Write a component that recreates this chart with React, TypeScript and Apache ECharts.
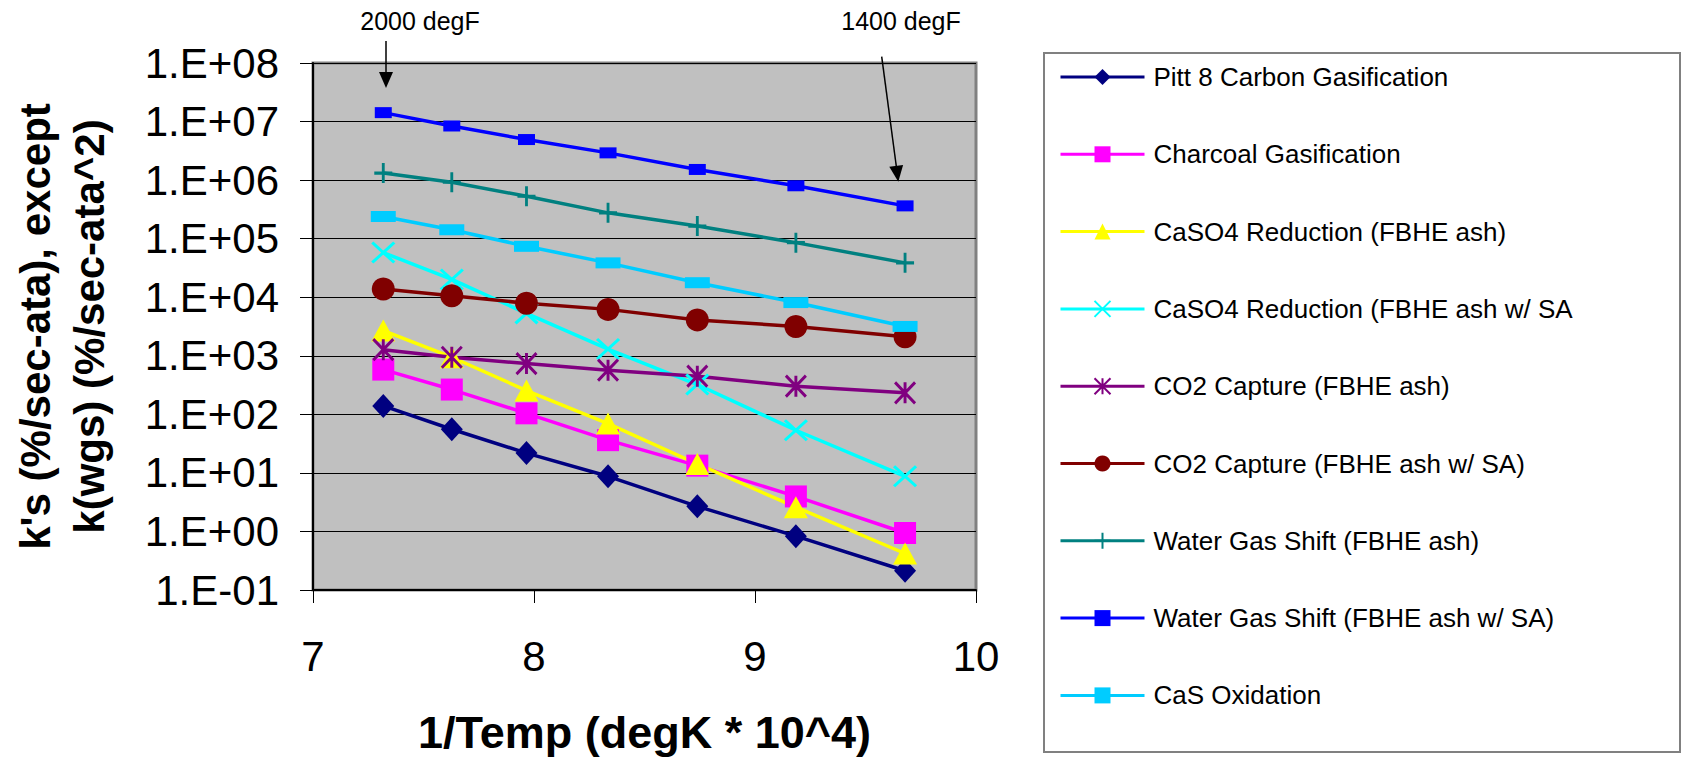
import React, { useEffect, useRef } from "react";
import * as echarts from "echarts";

// 1/Temp (degK * 10^4) for 2000..1400 degF in 100 degF steps
const xValues = [7.318, 7.628, 7.966, 8.335, 8.739, 9.185, 9.679];

const pitt8 = [139, 55.6, 21.8, 8.75, 2.68, 0.83, 0.213];
const charcoal = [581, 265, 104, 36.2, 13.3, 3.96, 0.94];
const caso4 = [2700, 944, 255, 69.5, 14.2, 2.6, 0.42];
const caso4SA = [57800, 20100, 5300, 1300, 323, 53.5, 8.75];
const co2 = [1270, 944, 735, 568, 449, 303, 233];
const co2SA = [13800, 10600, 7900, 6200, 4100, 3170, 2110];
const wgs = [1320000, 920000, 530000, 276000, 164000, 85500, 38600];
const wgsSA = [14200000, 8400000, 4930000, 2920000, 1520000, 800000, 363000];
const casOx = [239000, 142000, 74000, 38600, 17700, 8100, 3170];

const seriesNames = [
  "Pitt 8 Carbon Gasification",
  "Charcoal Gasification",
  "CaSO4 Reduction (FBHE ash)",
  "CaSO4 Reduction (FBHE ash w/ SA",
  "CO2 Capture (FBHE ash)",
  "CO2 Capture (FBHE ash w/ SA)",
  "Water Gas Shift (FBHE ash)",
  "Water Gas Shift (FBHE ash w/ SA)",
  "CaS Oxidation",
];

const xTickLabels = ["7", "8", "9", "10"];
const yTickLabels = [
  "1.E-01", "1.E+00", "1.E+01", "1.E+02", "1.E+03",
  "1.E+04", "1.E+05", "1.E+06", "1.E+07", "1.E+08",
];

const FONT = "'Liberation Sans', Arial, Helvetica, sans-serif";

const X_PATH = "path://M0,0L20,20M20,0L0,20";
const STAR_PATH = "path://M0,0L20,20M20,0L0,20M10,0L10,20";
const PLUS_PATH = "path://M10,0L10,20M0,10L20,10";
const WIDE_RECT = "path://M0,0H25V11H0Z";
const SMALL_RECT = "path://M0,0H17V11H0Z";

type Sty = { color: string; symbol: string; size: number | number[]; stroke?: boolean };
const styles: Sty[] = [
  { color: "#000080", symbol: "diamond", size: [22, 24] },
  { color: "#FF00FF", symbol: "rect", size: [22, 22] },
  { color: "#FFFF00", symbol: "triangle", size: [24, 22] },
  { color: "#00FFFF", symbol: X_PATH, size: [22, 20], stroke: true },
  { color: "#800080", symbol: STAR_PATH, size: [20, 21], stroke: true },
  { color: "#800000", symbol: "circle", size: 23 },
  { color: "#008080", symbol: PLUS_PATH, size: [18, 20], stroke: true },
  { color: "#0000FF", symbol: SMALL_RECT, size: [17, 11] },
  { color: "#00CCFF", symbol: WIDE_RECT, size: [25, 11] },
];
const seriesValues = [pitt8, charcoal, caso4, caso4SA, co2, co2SA, wgs, wgsSA, casOx];

export default function App() {
  const ref = useRef<HTMLDivElement>(null);
  useEffect(() => {
    if (!ref.current) return;
    const chart = echarts.init(ref.current, undefined, { renderer: "svg" });
    const series = seriesNames.map((name, i) => {
      const s = styles[i];
      return {
        name,
        type: "line",
        data: xValues.map((x, j) => [x, seriesValues[i][j]]),
        symbol: s.symbol,
        symbolSize: s.size,
        lineStyle: { color: s.color, width: 3.5 },
        itemStyle: s.stroke
          ? { color: s.color, borderColor: s.color, borderWidth: 3 }
          : { color: s.color },
        emphasis: { disabled: true },
      };
    });
    const gridLeft = 313, gridTop = 63, gridW = 663, gridH = 530;
    chart.setOption({
      animation: false,
      backgroundColor: "#FFFFFF",
      textStyle: { fontFamily: FONT },
      grid: {
        left: gridLeft, top: gridTop, width: gridW, height: gridH,
        show: true, backgroundColor: "#C0C0C0", borderColor: "#808080", borderWidth: 3,
      },
      xAxis: {
        type: "value", min: 7, max: 10, interval: 1,
        name: "1/Temp (degK * 10^4)", nameLocation: "middle", nameGap: 120,
        nameTextStyle: { fontSize: 45, fontWeight: "bold", color: "#000", fontFamily: FONT },
        axisLine: { show: true, onZero: false, lineStyle: { color: "#000", width: 2 } },
        axisTick: { show: true, length: 13, lineStyle: { color: "#000", width: 1 } },
        axisLabel: {
          fontSize: 42, color: "#000", margin: 45, fontFamily: FONT,
          formatter: (v: number) => xTickLabels[Math.round(v) - 7] ?? String(v),
        },
        splitLine: { show: false },
      },
      yAxis: {
        type: "log", logBase: 10, min: 0.1, max: 100000000, interval: 1,
        name: "k's (%/sec-ata), except\nk(wgs) (%/sec-ata^2)",
        nameLocation: "middle", nameRotate: 90, nameGap: 197,
        nameTextStyle: { fontSize: 42, fontWeight: "bold", color: "#000", lineHeight: 54, fontFamily: FONT },
        axisLine: { show: true, lineStyle: { color: "#000", width: 2 } },
        axisTick: { show: true, length: 13, lineStyle: { color: "#000", width: 1 } },
        axisLabel: {
          fontSize: 42, color: "#000", margin: 34, fontFamily: FONT,
          formatter: (v: number) => yTickLabels[Math.round(Math.log10(v)) + 1] ?? "",
        },
        splitLine: { show: true, lineStyle: { color: "#000", width: 1 } },
      },
      legend: {
        orient: "vertical", left: 1059, top: 64, padding: 0,
        itemWidth: 84, itemHeight: 20, itemGap: 51.3,
        selectedMode: false,
        data: seriesNames,
        lineStyle: { width: 3 },
        textStyle: { fontSize: 26, color: "#000", lineHeight: 26, fontFamily: FONT, padding: [0, 0, 0, 4] },
      },
      graphic: [
        { type: "rect", z: -1, shape: { x: 1044, y: 53, width: 636, height: 699 },
          style: { fill: "#FFFFFF", stroke: "#808080", lineWidth: 2 } },
        { type: "text", x: 420, y: 21, style: { text: "2000 degF", fontSize: 25, fontFamily: FONT, fill: "#000", align: "center", verticalAlign: "middle" } },
        { type: "text", x: 901, y: 21, style: { text: "1400 degF", fontSize: 25, fontFamily: FONT, fill: "#000", align: "center", verticalAlign: "middle" } },
        { type: "line", shape: { x1: 386, y1: 41, x2: 386, y2: 74 }, style: { stroke: "#000", lineWidth: 1.5 } },
        { type: "polygon", shape: { points: [[379, 72], [393, 72], [386, 88]] }, style: { fill: "#000" } },
        { type: "line", shape: { x1: 881.7, y1: 56.7, x2: 896.4, y2: 167 }, style: { stroke: "#000", lineWidth: 1.5 } },
        { type: "polygon", shape: { points: [[889.3, 166.7], [903.1, 164.9], [898.3, 181.7]] }, style: { fill: "#000" } },
      ],
      series,
    });
    return () => chart.dispose();
  }, []);
  return (
    <div
      ref={ref}
      style={{ position: "fixed", left: 0, top: 0, width: 1682, height: 760, background: "#fff" }}
    />
  );
}
